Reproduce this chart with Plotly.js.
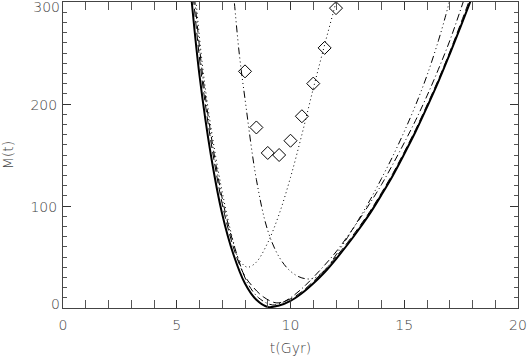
<!DOCTYPE html>
<html>
<head>
<meta charset="utf-8">
<script src="https://cdn.plot.ly/plotly-3.0.1.min.js"></script>
<style>
  html, body { margin: 0; padding: 0; background: #fff; }
  #chart { width: 527px; height: 356px; }
</style>
</head>
<body>
<div id="chart"></div>
<script>
// solid curve
const tSolid = [5.5, 5.66, 6.0, 6.5, 7.0, 7.5, 8.0, 8.5, 9.0, 9.5, 10.0, 10.5, 11.0, 11.5, 12.0, 12.5, 13.0, 13.5, 14.0, 14.5, 15.0, 15.5, 16.0, 16.5, 17.0, 17.5, 18.0];
const mSolid = [340, 300, 228, 150, 92, 52, 24, 8, 1, 2.5, 7, 14.5, 24, 35, 48, 62, 77, 93, 111, 130, 151, 173, 197, 222, 249, 277, 306];

// long dashes
const tDash = [5.6, 5.75, 6.1, 6.6, 7.1, 7.6, 8.0, 8.3, 8.8, 9.4, 10.0, 10.5, 11.0, 11.5, 12.0, 12.5, 13.0, 13.5, 14.0, 14.5, 15.0, 15.5, 16.0, 16.5, 17.0, 17.5, 18.0];
const mDash = [340, 300, 226, 150, 92, 52, 31, 22, 11, 5, 9, 16, 26, 37, 50, 64, 79, 95, 113, 132, 153, 175, 199, 224, 251, 280, 310];

// dash dot
const tDashDot = [5.6, 5.8, 6.15, 6.65, 7.15, 7.65, 8.1, 8.6, 9.2, 9.6, 10.0, 10.5, 11.0, 11.5, 12.0, 12.5, 13.0, 13.5, 14.0, 14.5, 15.0, 15.5, 16.0, 16.5, 17.0, 17.5, 18.0];
const mDashDot = [345, 300, 226, 150, 92, 52, 25, 10, 3, 5, 10, 19, 30, 42, 55, 70, 86, 103, 121, 141, 162, 184, 208, 234, 262, 294, 328];

// dash dot dot dot
const tDash3Dot = [7.45, 7.53, 7.75, 8.0, 8.5, 9.0, 9.5, 10.0, 10.5, 11.0, 11.5, 12.0, 12.5, 13.0, 13.5, 14.0, 14.5, 15.0, 15.5, 16.0, 16.5, 16.8, 17.0];
const mDash3Dot = [320, 300, 249, 205, 126, 76, 50, 36, 29.5, 29, 37, 52, 69, 87, 106, 127, 149, 173, 199, 228, 262, 285, 302];

// dotted
const tDot = [5.7, 5.85, 6.2, 6.7, 7.2, 7.5, 7.7, 8.0, 8.15, 8.5, 9.0, 9.5, 10.0, 10.5, 11.0, 11.5, 12.0, 12.2];
const mDot = [340, 300, 225, 150, 92, 64, 49, 41, 40, 45, 64, 92, 128, 170, 215, 258, 300, 318];

// diamonds
const tPts = [8.0, 8.5, 9.0, 9.5, 10.0, 10.5, 11.0, 11.5, 12.0];
const mPts = [232, 177, 152, 150, 164, 188, 220, 255, 294];

// axis labels
const xTicks = [0, 5, 10, 15, 20];
const yTicks = [0, 100, 200, 300];

const fontFam = '"DejaVu Sans", sans-serif';
const textFont = {family: fontFam, size: 14, color: '#444', weight: 300};

function curve(t, m, dash, width) {
  return {
    x: t, y: m,
    type: 'scatter', mode: 'lines',
    line: {color: '#000', width: width, dash: dash, shape: 'spline'},
    hoverinfo: 'skip'
  };
}

var data = [
  curve(tDot, mDot, '1px,3px', 1),
  curve(tDash3Dot, mDash3Dot, '7px,3px,1px,3px,1px,3px,1px,3px', 1),
  curve(tDashDot, mDashDot, '7px,3px,1px,3px', 1),
  curve(tDash, mDash, '8px,4px', 1),
  curve(tSolid, mSolid, 'solid', 2),
  {
    x: tPts, y: mPts,
    type: 'scatter', mode: 'markers',
    marker: {symbol: 'diamond-open', size: 10, color: '#000', line: {width: 1, color: '#000'}},
    hoverinfo: 'skip'
  },
  // empty traces so the label-only axes get drawn
  {x: [], y: [], yaxis: 'y2', type: 'scatter', mode: 'lines'},
  {x: [], y: [], yaxis: 'y3', type: 'scatter', mode: 'lines'}
];

// the top and bottom y labels sit a little inside the frame, as in the original
var labelAxis = function(val, shift) {
  return {
    overlaying: 'y', anchor: 'x', side: 'left', range: [0, 300],
    tickmode: 'array', tickvals: [val], ticktext: [String(val)],
    ticks: '', showline: false, showgrid: false, zeroline: false,
    ticklabelshift: shift, ticklabelstandoff: 2, ticklabeloverflow: 'allow',
    tickfont: textFont
  };
};

var layout = {
  width: 527, height: 356,
  margin: {l: 63, r: 9, t: 2, b: 48},
  paper_bgcolor: '#fff', plot_bgcolor: '#fff',
  showlegend: false,
  xaxis: {
    range: [0, 20], tickmode: 'array', tickvals: xTicks, ticktext: xTicks.map(String),
    showline: true, linecolor: '#444', linewidth: 1, mirror: 'allticks',
    ticks: 'inside', ticklen: 8, tickcolor: '#333', tickwidth: 1,
    showgrid: false, zeroline: false,
    ticklabelstandoff: 4, ticklabeloverflow: 'allow',
    tickfont: textFont,
    minor: {dtick: 1, ticks: 'inside', ticklen: 4, tickcolor: '#555', tickwidth: 1},
    title: {text: 't(Gyr)', font: textFont, standoff: 20}
  },
  yaxis: {
    range: [0, 300], tickmode: 'array', tickvals: yTicks,
    ticktext: yTicks.map(v => (v === 0 || v === 300) ? '' : String(v)),
    showline: true, linecolor: '#444', linewidth: 1, mirror: 'allticks',
    ticks: 'inside', ticklen: 8, tickcolor: '#333', tickwidth: 1,
    showgrid: false, zeroline: false,
    ticklabelshift: 1, ticklabelstandoff: 2, ticklabeloverflow: 'allow',
    tickfont: textFont,
    minor: {dtick: 10, ticks: 'inside', ticklen: 4, tickcolor: '#555', tickwidth: 1},
    title: {text: 'M(t)', font: textFont, standoff: 14}
  },
  yaxis2: labelAxis(300, 5),
  yaxis3: labelAxis(0, -4)
};

Plotly.newPlot('chart', data, layout, {displayModeBar: false});
</script>
</body>
</html>
